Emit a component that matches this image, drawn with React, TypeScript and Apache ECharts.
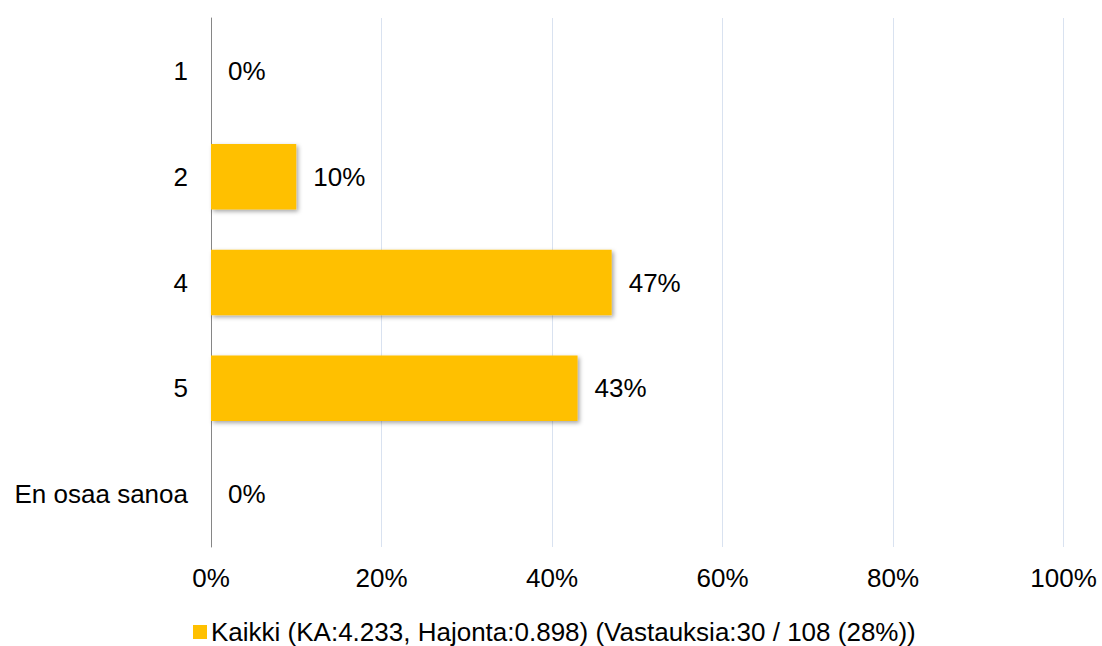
import React, { useEffect, useRef } from "react";
import * as echarts from "echarts";

const categories = ["1", "2", "4", "5", "En osaa sanoa"];
const values = [0, 10, 47, 43, 0];
const xTicks = { min: 0, max: 100, interval: 20 };
const seriesName = "Kaikki (KA:4.233, Hajonta:0.898) (Vastauksia:30 / 108 (28%))";

const FONT = "'Liberation Sans', Arial, sans-serif";
const FS = 26;

export default function App() {
  const ref = useRef<HTMLDivElement>(null);
  useEffect(() => {
    document.body.style.margin = "0";
    const chart = echarts.init(ref.current!, null, { renderer: "svg" });
    chart.setOption({
      animation: false,
      textStyle: { fontFamily: FONT },
      grid: { left: 211, right: 38.5, top: 18, bottom: 99, containLabel: false },
      legend: {
        show: true,
        left: 193,
        top: 619,
        padding: 0,
        itemWidth: 14,
        itemHeight: 14,
        itemGap: 5,
        icon: "rect",
        textStyle: { fontSize: FS, lineHeight: 26, color: "#000", fontFamily: FONT, padding: [0, 0, 0, -1] },
        data: [seriesName],
      },
      xAxis: {
        type: "value",
        min: xTicks.min,
        max: xTicks.max,
        interval: xTicks.interval,
        axisLine: { show: false },
        axisTick: { show: false },
        axisLabel: {
          formatter: "{value}%",
          fontSize: FS,
          color: "#000",
          margin: 18,
          fontFamily: FONT,
        },
        splitLine: { show: true, lineStyle: { color: "#D9E2F0", width: 1 } },
      },
      yAxis: {
        type: "category",
        data: categories,
        inverse: true,
        axisLine: { show: true, lineStyle: { color: "#868686", width: 1 } },
        axisTick: { show: false },
        axisLabel: { fontSize: FS, color: "#000", margin: 23, fontFamily: FONT },
        splitLine: { show: false },
      },
      series: [
        {
          name: seriesName,
          type: "bar",
          data: values,
          barWidth: "62%",
          itemStyle: {
            color: "#FFC000",
            shadowColor: "rgba(0,0,0,0.35)",
            shadowBlur: 4,
            shadowOffsetX: 2,
            shadowOffsetY: 2,
          },
          label: {
            show: true,
            position: "right",
            distance: 17,
            formatter: "{c}%",
            fontSize: FS,
            color: "#000",
            fontFamily: FONT,
          },
        },
      ],
    });
    return () => chart.dispose();
  }, []);
  return <div ref={ref} style={{ width: 1102, height: 646 }} />;
}
